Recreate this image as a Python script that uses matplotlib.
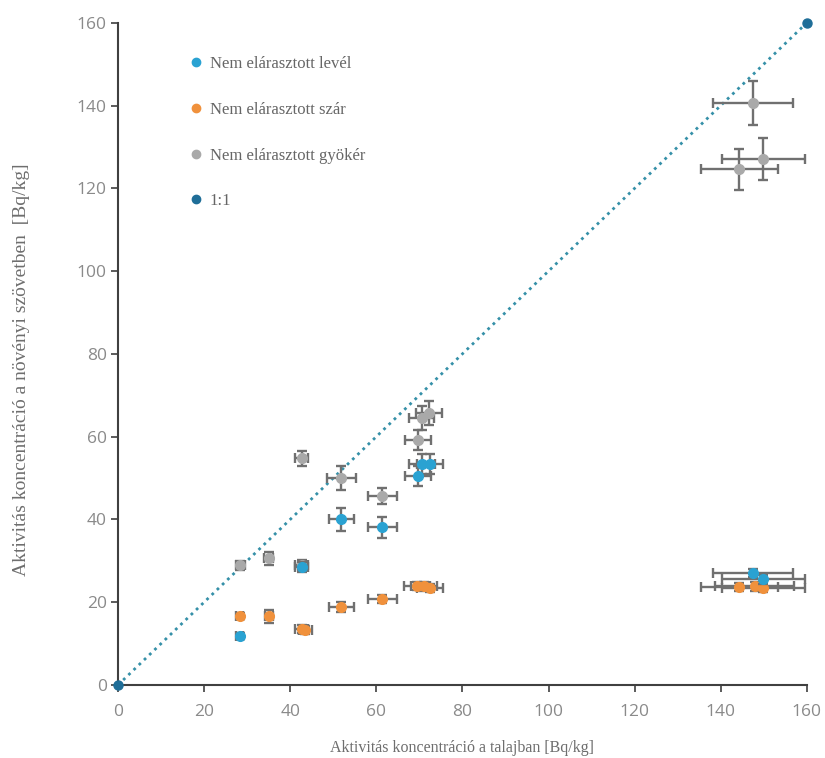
import matplotlib
matplotlib.use("Agg")
import matplotlib.pyplot as plt
from matplotlib.lines import Line2D

# Data (soil activity x, plant tissue activity y, with uncertainties)
leaf_x = [28.3, 42.7, 51.9, 61.4, 69.7, 70.7, 72.4, 147.5, 149.9]
leaf_y = [11.8, 28.6, 40.0, 38.1, 50.5, 53.4, 53.4, 27.1, 25.5]
leaf_xerr = [0.8, 1.5, 3.0, 3.3, 3.0, 3.0, 3.0, 9.2, 9.6]
leaf_yerr = [0.8, 1.2, 2.8, 2.5, 2.5, 2.5, 2.5, 1.0, 1.0]

stem_x = [28.3, 35.1, 42.7, 43.5, 51.9, 61.4, 69.5, 71.0, 72.4, 144.3, 147.9, 149.9]
stem_y = [16.7, 16.6, 13.5, 13.3, 18.9, 20.7, 24.0, 23.8, 23.5, 23.6, 23.8, 23.4]
stem_xerr = [0.8, 1.0, 1.5, 1.5, 3.0, 3.3, 3.0, 3.0, 3.0, 9.0, 9.2, 9.6]
stem_yerr = [0.8, 1.5, 1.0, 1.0, 1.2, 1.0, 1.0, 1.0, 1.0, 1.0, 1.0, 1.0]

root_x = [28.4, 35.0, 42.7, 42.7, 51.9, 61.4, 69.7, 70.5, 72.3, 144.3, 147.5, 149.9]
root_y = [28.9, 30.6, 29.0, 54.8, 50.0, 45.7, 59.2, 64.5, 65.7, 124.6, 140.6, 127.1]
root_xerr = [1.0, 1.0, 1.5, 1.5, 3.3, 3.3, 3.0, 3.0, 3.0, 9.0, 9.3, 9.6]
root_yerr = [1.0, 1.5, 1.2, 1.8, 3.0, 2.0, 2.5, 3.0, 3.0, 5.0, 5.4, 5.1]

one_x = [0, 160]
one_y = [0, 160]

labels = ["Nem elárasztott levél", "Nem elárasztott szár",
          "Nem elárasztott gyökér", "1:1"]
x_ticks = [0, 20, 40, 60, 80, 100, 120, 140, 160]
y_ticks = [0, 20, 40, 60, 80, 100, 120, 140, 160]

c_leaf = "#2AA2D2"
c_stem = "#F0913C"
c_root = "#A9A9A9"
c_one = "#1F6E98"
c_err = "#707070"

fig = plt.figure(figsize=(8.25, 7.58), dpi=100)
ax = fig.add_axes([0.143, 0.0963, 0.835, 0.8737])

# 1:1 line
ax.plot(one_x, one_y, linestyle=(0, (1, 1.6)), color="#3590A8", lw=2.0, zorder=1)
ax.plot(one_x, one_y, linestyle="none", marker="o", ms=6.5, color=c_one,
        zorder=6, clip_on=False)

def series(x, y, xe, ye, color, z):
    ax.errorbar(x, y, xerr=xe, yerr=ye, fmt="none", ecolor=c_err,
                elinewidth=1.7, capsize=3.5, capthick=1.7, zorder=z)
    ax.plot(x, y, linestyle="none", marker="o", ms=7, color=color,
            zorder=z + 0.5)

series(root_x, root_y, root_xerr, root_yerr, c_root, 2)
series(stem_x, stem_y, stem_xerr, stem_yerr, c_stem, 3)
series(leaf_x, leaf_y, leaf_xerr, leaf_yerr, c_leaf, 4)

ax.set_xlim(0, 160)
ax.set_ylim(0, 160)
ax.set_xticks(x_ticks)
ax.set_yticks(y_ticks)

for s in ["top", "right"]:
    ax.spines[s].set_visible(False)
for s in ["left", "bottom"]:
    ax.spines[s].set_color("#404040")
    ax.spines[s].set_linewidth(1.5)
ax.tick_params(direction="out", length=5, width=1.2, color="#404040",
               labelcolor="#8A8A8A", labelsize=12.5)
ax.tick_params(axis="y", pad=3)
ax.tick_params(axis="x", pad=9)
for lab in ax.get_xticklabels() + ax.get_yticklabels():
    lab.set_family("Open Sans")

ax.set_xlabel("Aktivitás koncentráció a talajban [Bq/kg]", family="Liberation Serif",
              fontsize=11.5, color="#6E6E6E", labelpad=14)
ax.set_ylabel("Aktivitás koncentráció a növényi szövetben  [Bq/kg]",
              family="Liberation Serif", fontsize=14, color="#6E6E6E")
ax.yaxis.set_label_coords(-0.127, 0.476)

handles = [Line2D([], [], linestyle="none", marker="o", ms=6, color=c)
           for c in [c_leaf, c_stem, c_root, c_one]]
leg = ax.legend(handles, labels, loc="upper left", bbox_to_anchor=(0.08, 0.972),
                frameon=False, labelspacing=1.78, handletextpad=0.3,
                handlelength=1.0, prop={"family": "Liberation Serif", "size": 12})
for t in leg.get_texts():
    t.set_color("#666666")

fig.savefig("out.png", dpi=100)
